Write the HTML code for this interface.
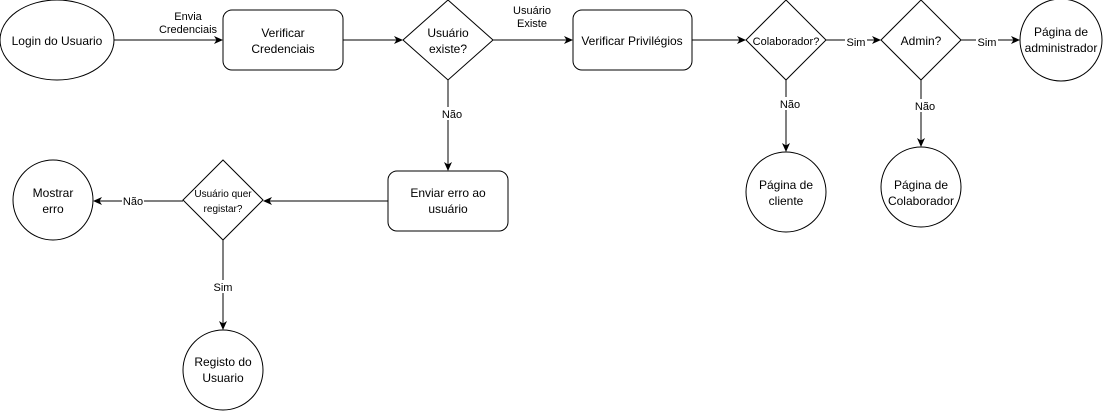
<!DOCTYPE html>
<html><head><meta charset="utf-8"><style>
html,body{margin:0;padding:0;background:#fff;}
svg{display:block;font-family:"Liberation Sans",Helvetica,Arial,sans-serif;}
</style></head><body>
<svg width="1105" height="412" viewBox="0 0 1105 412" xmlns="http://www.w3.org/2000/svg">
<defs><marker id="a" markerWidth="10" markerHeight="10" refX="8" refY="5" orient="auto" markerUnits="userSpaceOnUse"><path d="M0,1 L9,5 L0,9 L2.5,5 Z" fill="#000"/></marker></defs>
<g fill="#fff" stroke="#000" stroke-width="1">
<ellipse cx="57" cy="40" rx="57" ry="40"/>
<rect x="223" y="10" width="120" height="60" rx="9"/>
<polygon points="448,0 493,40 448,80 403,40"/>
<rect x="573" y="10" width="119" height="60" rx="9"/>
<polygon points="786,0 826,40 786,80 746,40"/>
<polygon points="921,0 961,40 921,80 881,40"/>
<circle cx="1061" cy="40" r="41"/>
<circle cx="786" cy="192" r="40"/>
<circle cx="921" cy="187" r="40"/>
<rect x="388" y="171" width="120" height="60" rx="9"/>
<polygon points="223,160 263,200 223,240 183,200"/>
<circle cx="53" cy="200" r="40"/>
<circle cx="223" cy="370" r="40"/>
</g>
<g stroke="#000" stroke-width="1" fill="none" marker-end="url(#a)">
<line x1="114" y1="40" x2="222" y2="40"/>
<line x1="343" y1="40" x2="402" y2="40"/>
<line x1="493" y1="40" x2="572" y2="40"/>
<line x1="692" y1="40" x2="745" y2="40"/>
<line x1="826" y1="40" x2="880" y2="40"/>
<line x1="961" y1="40" x2="1019" y2="40"/>
<line x1="786" y1="80" x2="786" y2="151"/>
<line x1="921" y1="80" x2="921" y2="146"/>
<line x1="448" y1="80" x2="448" y2="170"/>
<line x1="388" y1="201" x2="264" y2="201"/>
<line x1="183" y1="201" x2="94" y2="201"/>
<line x1="223" y1="240" x2="223" y2="329"/>
</g>
<g font-size="11" text-anchor="middle" fill="#000">
<rect x="122" y="194" width="22" height="13" fill="#fff"/>
<text x="133" y="205">Não</text>
<rect x="845" y="35" width="22" height="13" fill="#fff"/>
<text x="856" y="46">Sim</text>
<rect x="976" y="35" width="22" height="13" fill="#fff"/>
<text x="987" y="46">Sim</text>
<rect x="440" y="107" width="24" height="13" fill="#fff"/>
<text x="452" y="118">Não</text>
<rect x="778" y="97" width="24" height="13" fill="#fff"/>
<text x="790" y="108">Não</text>
<rect x="913" y="99" width="24" height="13" fill="#fff"/>
<text x="925" y="110">Não</text>
<rect x="212" y="280" width="22" height="13" fill="#fff"/>
<text x="223" y="291">Sim</text>
<text x="188" y="20">Envia</text>
<text x="188" y="33">Credenciais</text>
<text x="532" y="14">Usuário</text>
<text x="532" y="27">Existe</text>
</g>
<g font-size="12" text-anchor="middle" fill="#000">
<text x="57" y="45">Login do Usuario</text>
<text x="283" y="37">Verificar</text>
<text x="283" y="53">Credenciais</text>
<text x="448" y="37">Usuário</text>
<text x="448" y="53">existe?</text>
<text x="632" y="45">Verificar Privilégios</text>
<text x="786" y="45" font-size="11">Colaborador?</text>
<text x="921" y="45">Admin?</text>
<text x="1061" y="36">Página de</text>
<text x="1061" y="52">administrador</text>
<text x="786" y="189">Página de</text>
<text x="786" y="205">cliente</text>
<text x="921" y="189">Página de</text>
<text x="921" y="205">Colaborador</text>
<text x="448" y="197">Enviar erro ao</text>
<text x="448" y="213">usuário</text>
<text x="223" y="197" font-size="10">Usuário quer</text>
<text x="223" y="212" font-size="10">registar?</text>
<text x="53" y="197">Mostrar</text>
<text x="53" y="213">erro</text>
<text x="223" y="366">Registo do</text>
<text x="223" y="382">Usuario</text>
</g>
</svg>
</body></html>
